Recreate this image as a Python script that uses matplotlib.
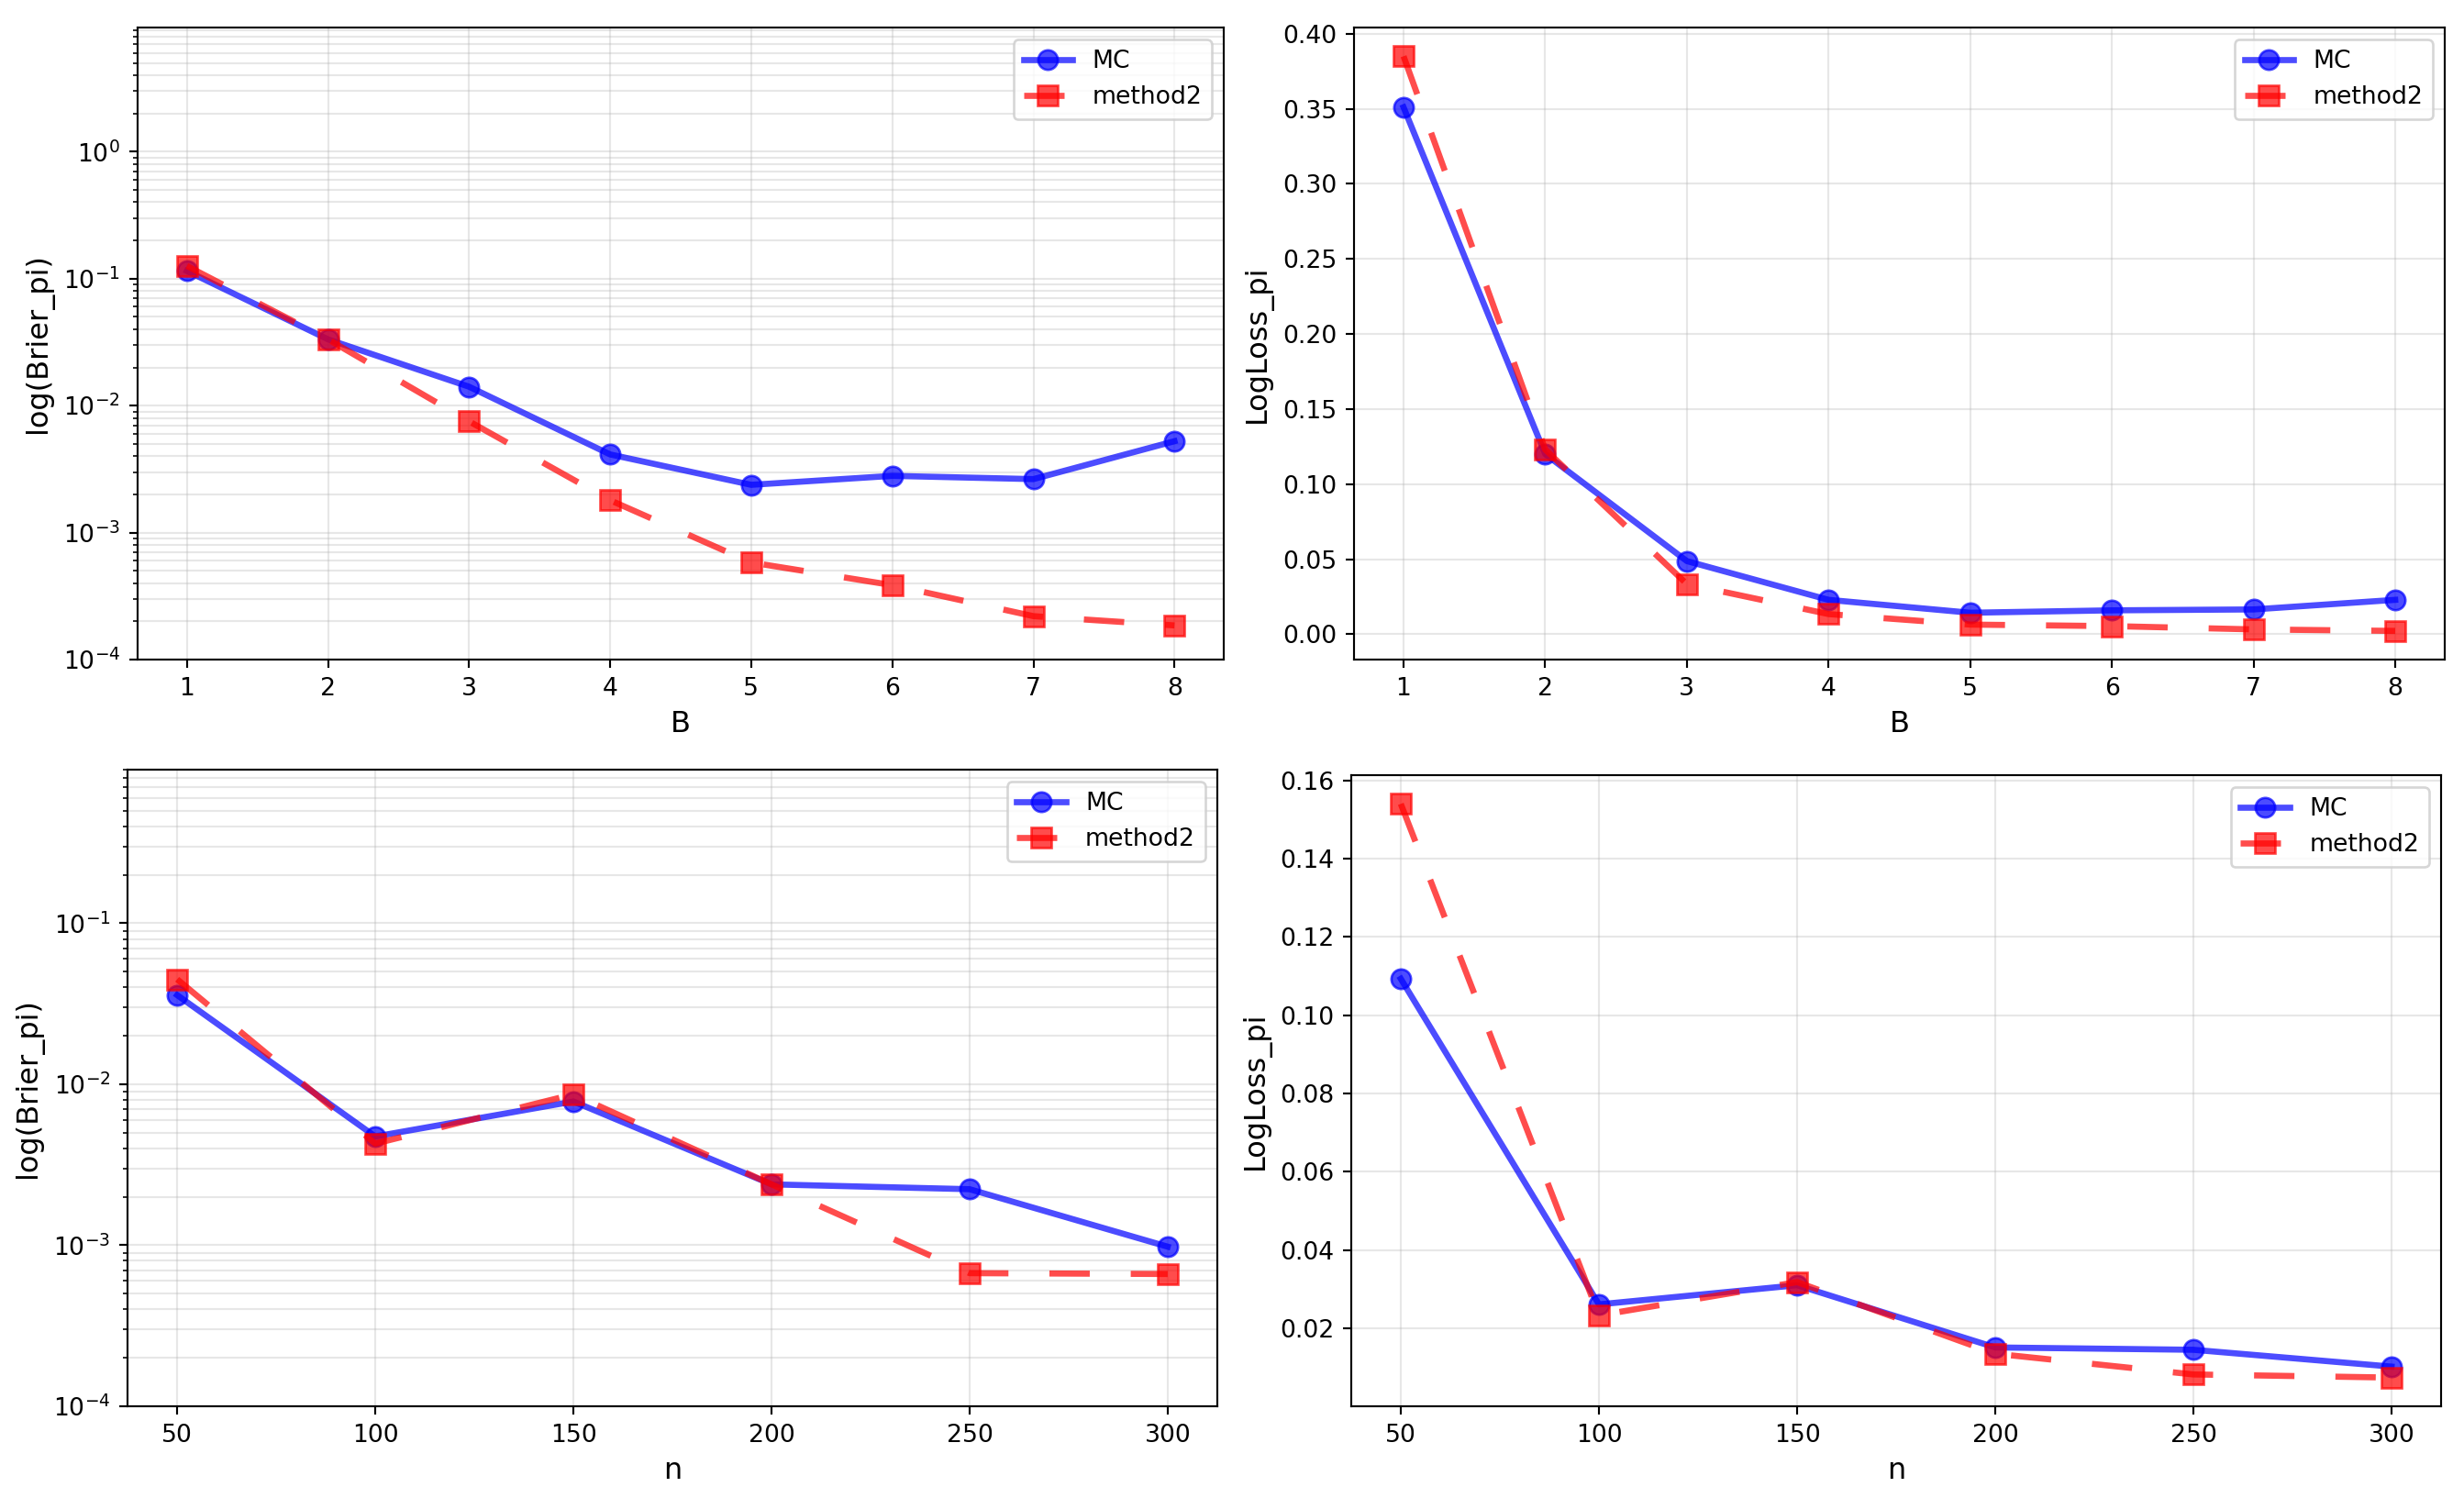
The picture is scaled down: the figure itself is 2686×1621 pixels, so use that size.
import matplotlib
matplotlib.use('Agg')
import matplotlib.pyplot as plt

# x values
B_vals = [1, 2, 3, 4, 5, 6, 7, 8]
n_vals = [50, 100, 150, 200, 250, 300]

# Brier vs B
brier_B_mc = [0.115, 0.0333, 0.0141, 0.00413, 0.00238, 0.0028, 0.00264, 0.00525]
brier_B_m2 = [0.126, 0.0333, 0.00753, 0.0018, 0.000582, 0.000386, 0.00022, 0.000186]

# LogLoss vs B
logloss_B_mc = [0.351, 0.120, 0.0487, 0.0229, 0.0143, 0.0159, 0.0165, 0.0229]
logloss_B_m2 = [0.385, 0.123, 0.0334, 0.0134, 0.0064, 0.0054, 0.0032, 0.0022]

# Brier vs n
brier_n_mc = [0.0358, 0.00474, 0.00782, 0.00239, 0.00223, 0.00098]
brier_n_m2 = [0.0449, 0.00428, 0.00866, 0.00239, 0.000671, 0.000663]

# LogLoss vs n
logloss_n_mc = [0.1093, 0.0261, 0.031, 0.0151, 0.0145, 0.0102]
logloss_n_m2 = [0.154, 0.0233, 0.0318, 0.0135, 0.0082, 0.0074]

DPI = 192
fig, axes = plt.subplots(2, 2, figsize=(2686 / DPI, 1621 / DPI), dpi=DPI)

# axes positions (left, bottom, width, height) in figure fraction
positions = [
    [0.0558, 0.5564, 0.4409, 0.4251],
    [0.5495, 0.5564, 0.4427, 0.4251],
    [0.0518, 0.0543, 0.4422, 0.4281],
    [0.5484, 0.0543, 0.4423, 0.4244],
]

panels = [
    (B_vals, brier_B_mc, brier_B_m2, 'B', 'log(Brier_pi)', True, (1e-4, 9.5)),
    (B_vals, logloss_B_mc, logloss_B_m2, 'B', 'LogLoss_pi', False, None),
    (n_vals, brier_n_mc, brier_n_m2, 'n', 'log(Brier_pi)', True, (1e-4, 0.9)),
    (n_vals, logloss_n_mc, logloss_n_m2, 'n', 'LogLoss_pi', False, None),
]

for ax, pos, (x, mc, m2, xl, yl, logy, ylim) in zip(axes.flat, positions, panels):
    ax.set_position(pos)
    ax.plot(x, mc, 'o-', color='blue', alpha=0.7, linewidth=2.5, markersize=8, label='MC')
    ax.plot(x, m2, 's--', color='red', alpha=0.7, linewidth=2.5, markersize=8,
            dashes=(6.6, 6.7), label='method2')
    if logy:
        ax.set_yscale('log')
        ax.set_ylim(*ylim)
        ax.grid(True, which='both', alpha=0.3)
    else:
        ax.grid(True, alpha=0.3)
    ax.set_xticks(x)
    ax.set_xlabel(xl, fontsize=12)
    ax.set_ylabel(yl, fontsize=12)
    ax.tick_params(labelsize=10)
    ax.legend(loc='upper right', fontsize=10)

fig.savefig('out.png', dpi=DPI)
